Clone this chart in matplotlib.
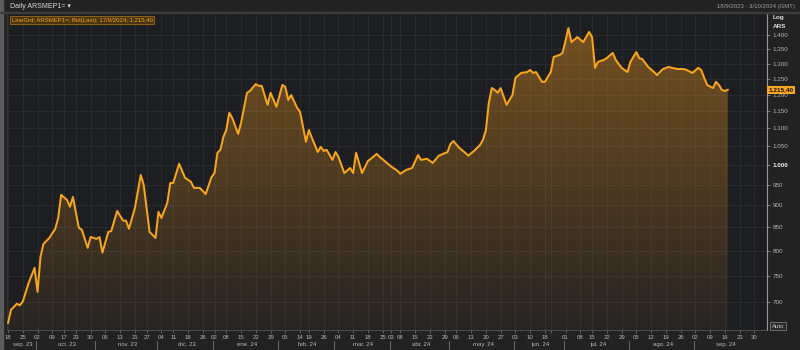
import numpy as np
import matplotlib
matplotlib.use('Agg')
import matplotlib.pyplot as plt
import matplotlib.transforms as mtransforms
from matplotlib.patches import Rectangle

plt.rcParams['font.family'] = ['Liberation Sans', 'DejaVu Sans']

# Argentine market holidays (weekdays) inside the window
holidays = ['2023-10-13', '2023-10-16', '2023-11-20', '2023-12-08', '2023-12-25',
            '2024-01-01', '2024-02-12', '2024-02-13', '2024-03-28', '2024-03-29',
            '2024-04-01', '2024-04-02', '2024-05-01', '2024-06-17', '2024-06-20',
            '2024-06-21', '2024-07-09']

start = '2023-09-18'
end = '2024-10-03'

dates = ['2023-09-18', '2023-09-19', '2023-09-21', '2023-09-22', '2023-09-25', '2023-09-27',
         '2023-09-29', '2023-10-02', '2023-10-03', '2023-10-04', '2023-10-06', '2023-10-10',
         '2023-10-11', '2023-10-12', '2023-10-18', '2023-10-19', '2023-10-20', '2023-10-24',
         '2023-10-25', '2023-10-27', '2023-10-30', '2023-11-01', '2023-11-02', '2023-11-03',
         '2023-11-07', '2023-11-08', '2023-11-10', '2023-11-14', '2023-11-15', '2023-11-16',
         '2023-11-21', '2023-11-23', '2023-11-24', '2023-11-28', '2023-11-30', '2023-12-01',
         '2023-12-04', '2023-12-06', '2023-12-07', '2023-12-11', '2023-12-13', '2023-12-15',
         '2023-12-19', '2023-12-20', '2023-12-22', '2023-12-27', '2023-12-29', '2024-01-02',
         '2024-01-03', '2024-01-04', '2024-01-05', '2024-01-08', '2024-01-09', '2024-01-10',
         '2024-01-12', '2024-01-15', '2024-01-17', '2024-01-18', '2024-01-22', '2024-01-23',
         '2024-01-24', '2024-01-26', '2024-01-29', '2024-01-31', '2024-02-02', '2024-02-05',
         '2024-02-06', '2024-02-07', '2024-02-09', '2024-02-14', '2024-02-16', '2024-02-19',
         '2024-02-20', '2024-02-22', '2024-02-23', '2024-02-26', '2024-02-27', '2024-02-29',
         '2024-03-01', '2024-03-04', '2024-03-06', '2024-03-08', '2024-03-11', '2024-03-12',
         '2024-03-14', '2024-03-18', '2024-03-19', '2024-03-21', '2024-03-22', '2024-03-26',
         '2024-04-03', '2024-04-05', '2024-04-08', '2024-04-10', '2024-04-12', '2024-04-16',
         '2024-04-17', '2024-04-19', '2024-04-23', '2024-04-25', '2024-04-30', '2024-05-02',
         '2024-05-03', '2024-05-07', '2024-05-09', '2024-05-10', '2024-05-14', '2024-05-16',
         '2024-05-17', '2024-05-20', '2024-05-21', '2024-05-22', '2024-05-23', '2024-05-24',
         '2024-05-27', '2024-05-29', '2024-05-31', '2024-06-03', '2024-06-05', '2024-06-07',
         '2024-06-10', '2024-06-11', '2024-06-12', '2024-06-14', '2024-06-18', '2024-06-24',
         '2024-06-25', '2024-06-27', '2024-06-28', '2024-07-02', '2024-07-03', '2024-07-05',
         '2024-07-10', '2024-07-12', '2024-07-15', '2024-07-16', '2024-07-17', '2024-07-19',
         '2024-07-22', '2024-07-24', '2024-07-25', '2024-07-29', '2024-07-31', '2024-08-01',
         '2024-08-05', '2024-08-06', '2024-08-07', '2024-08-09', '2024-08-13', '2024-08-14',
         '2024-08-16', '2024-08-20', '2024-08-21', '2024-08-23', '2024-08-27', '2024-08-28',
         '2024-08-30', '2024-09-03', '2024-09-04', '2024-09-05', '2024-09-06', '2024-09-10',
         '2024-09-11', '2024-09-12', '2024-09-13', '2024-09-16', '2024-09-17']

values = [663, 686, 697, 694, 701, 736,
          765, 719, 787, 814, 827, 847,
          871, 925, 913, 897, 920, 849,
          845, 806, 829, 825, 829, 796,
          840, 842, 887, 865, 865, 847,
          894, 974, 949, 840, 827, 885,
          871, 906, 954, 954, 1003, 967,
          957, 942, 942, 927, 969, 979,
          1032, 1040, 1075, 1095, 1145, 1130,
          1084, 1115, 1206, 1212, 1234, 1228,
          1228, 1169, 1206, 1163, 1231, 1225,
          1184, 1199, 1160, 1148, 1062, 1095,
          1073, 1034, 1048, 1037, 1040, 1013,
          1034, 1021, 979, 992, 979, 1032,
          979, 1010, 1016, 1029, 1021, 1008,
          995, 985, 977, 987, 992, 1026,
          1013, 1016, 1005, 1024, 1034, 1056,
          1064, 1045, 1032, 1024, 1037, 1053,
          1067, 1095, 1175, 1221, 1215, 1206,
          1221, 1169, 1199, 1254, 1270, 1273,
          1280, 1270, 1273, 1241, 1241, 1273,
          1324, 1331, 1338, 1427, 1376, 1394,
          1376, 1413, 1394, 1287, 1307, 1314,
          1320, 1338, 1314, 1287, 1273, 1307,
          1341, 1320, 1317, 1290, 1273, 1263,
          1283, 1290, 1287, 1283, 1283, 1280,
          1270, 1287, 1280, 1254, 1231, 1221,
          1241, 1231, 1215, 1212, 1215.40]

y_ticks = [700, 750, 800, 850, 900, 950, 1000, 1050, 1100, 1150, 1200, 1250, 1300, 1350, 1400]
month_names = ['sep. 23', 'oct. 23', 'nov. 23', 'dic. 23', 'ene. 24', 'feb. 24', 'mar. 24',
               'abr. 24', 'may. 24', 'jun. 24', 'jul. 24', 'ago. 24', 'sep. 24']

last_label = '1.215,40'
legend_text = 'LineGrd; ARSMEP1=; Bid(Last); 17/9/2024; 1.215,40'


def tday(d):
    # position on a trading-day axis
    return np.busday_count(start, d, holidays=holidays)


def fmt_ars(v):
    return f'{v:,.0f}'.replace(',', '.')


x = tday(np.array(dates, dtype='datetime64[D]'))
y = np.array(values)

# trading calendar for ticks
all_days = np.arange(np.datetime64(start), np.datetime64(end) + 1)
tdays = all_days[np.is_busday(all_days, holidays=holidays)]
weeks = (tdays - np.datetime64('2023-09-18')).astype(int) // 7
week_first = tdays[np.r_[True, weeks[1:] != weeks[:-1]]]
months = tdays.astype('datetime64[M]')
month_first = tdays[np.r_[True, months[1:] != months[:-1]]]

# drop a week label that would sit on top of the previous one
tick_pos = tday(week_first)
tick_lab = []
last_shown = -99
for d, p in zip(week_first, tick_pos):
    if p - last_shown >= 3:
        tick_lab.append(str(d)[8:10])
        last_shown = p
    else:
        tick_lab.append('')

bg = '#1d1e22'
fig = plt.figure(figsize=(8, 3.5), dpi=100, facecolor='#222222')
ax = fig.add_axes([7 / 800, 20 / 350, 760 / 800, 318 / 350])
ax.set_facecolor(bg)
ax.set_yscale('log')
y_lo, y_hi = 651, 1488
x_lo, x_hi = -0.35, 257.3

# gradient fill under the line
poly = ax.fill_between(x, y, y_lo, facecolor='none', edgecolor='none')
grad = np.zeros((256, 1, 4))
grad[:, 0, 0] = 0.80
grad[:, 0, 1] = 0.52
grad[:, 0, 2] = 0.12
grad[:, 0, 3] = np.linspace(0.52, 0.06, 256)
img = ax.imshow(grad, extent=[0, 1, 0, 1], transform=ax.transAxes, aspect='auto',
                interpolation='bilinear', zorder=1)
img.set_clip_path(poly.get_paths()[0], transform=ax.transData)

ax.plot(x, y, color='#f7a51c', lw=1.45, zorder=3, solid_joinstyle='round')

ax.set_xlim(x_lo, x_hi)
ax.set_ylim(y_lo, y_hi)

# x ticks: first trading day of each week
ax.set_xticks(tick_pos)
ax.set_xticklabels(tick_lab)
ax.xaxis.set_minor_locator(matplotlib.ticker.NullLocator())
ax.tick_params(axis='x', length=2, width=0.5, color='#777777', labelsize=4.3,
               labelcolor='#b5b5b5', pad=1.5)

# y ticks on the right
ax.yaxis.tick_right()
ax.yaxis.set_minor_locator(matplotlib.ticker.NullLocator())
ax.set_yticks(y_ticks)
ax.set_yticklabels([fmt_ars(v) for v in y_ticks])
ax.tick_params(axis='y', length=2, width=0.5, color='#999999', labelsize=4.5,
               labelcolor='#b5b5b5', pad=2)
for lbl in ax.get_yticklabels():
    if lbl.get_text() == '1.000':
        lbl.set_color('#eeeeee')
        lbl.set_fontweight('bold')

ax.grid(True, which='major', color='#2c2d33', lw=0.6)
ax.set_axisbelow(True)
for side in ['left', 'top']:
    ax.spines[side].set_color('#3a3a3a')
    ax.spines[side].set_linewidth(0.6)
ax.spines['right'].set_color('#9a9a9a')
ax.spines['right'].set_linewidth(0.8)
ax.spines['bottom'].set_color('#555555')
ax.spines['bottom'].set_linewidth(0.6)

# month row under the day ticks
trans = mtransforms.blended_transform_factory(ax.transData, ax.transAxes)
m_pos = list(tday(month_first)) + [x_hi]
for i, name in enumerate(month_names):
    left = max(m_pos[i], x_lo)
    right = min(m_pos[i + 1], x_hi)
    ax.text((left + right) / 2, -0.047, name, transform=trans, ha='center', va='center',
            fontsize=4.3, color='#b5b5b5', clip_on=False)
    if i > 0:
        ax.plot([m_pos[i] - 0.5, m_pos[i] - 0.5], [-0.035, -0.06], transform=trans,
                color='#888888', lw=0.5, clip_on=False)

# legend tag
ax.text(0.006, 0.982, legend_text, transform=ax.transAxes, ha='left', va='top',
        fontsize=4.3, color='#f3a626', zorder=5,
        bbox=dict(boxstyle='square,pad=0.25', fc='#4a3412', ec='#b07a1c', lw=0.5))

# last value tag on the right axis
rtrans = mtransforms.blended_transform_factory(ax.transAxes, ax.transData)
ax.text(1.002, values[-1], last_label, transform=rtrans, ha='left', va='center',
        fontsize=4.6, color='#111111', fontweight='bold', zorder=6, clip_on=False,
        bbox=dict(boxstyle='square,pad=0.25', fc='#f5a623', ec='none'))

# header texts
fig.text(10 / 800, 1 - 6.5 / 350, 'Daily ARSMEP1= \u25be', fontsize=5, color='#d8d8d8',
         ha='left', va='center')
fig.text(795 / 800, 1 - 6.5 / 350, '18/9/2023 - 3/10/2024 (GMT)', fontsize=4.3,
         color='#a0a0a0', ha='right', va='center')
fig.text(773 / 800, 1 - 18 / 350, 'Log', fontsize=4.6, color='#dddddd', fontweight='bold',
         ha='left', va='center')
fig.text(773 / 800, 1 - 26 / 350, 'ARS', fontsize=4.6, color='#dddddd', fontweight='bold',
         ha='left', va='center')
fig.text(772 / 800, 1 - 326 / 350, 'Auto', fontsize=4.3, color='#cccccc', ha='left',
         va='center', bbox=dict(boxstyle='square,pad=0.3', fc='#2a2a2a', ec='#888888', lw=0.5))

# window frame
fig.patches.append(Rectangle((0, 0), 3 / 800, 1, transform=fig.transFigure,
                             color='#5c5c5c', zorder=0))
fig.patches.append(Rectangle((0, 1 - 13 / 350), 1, 1 / 350, transform=fig.transFigure,
                             color='#3c3c3c', zorder=0))

fig.savefig('out.png', dpi=100, facecolor=fig.get_facecolor())
